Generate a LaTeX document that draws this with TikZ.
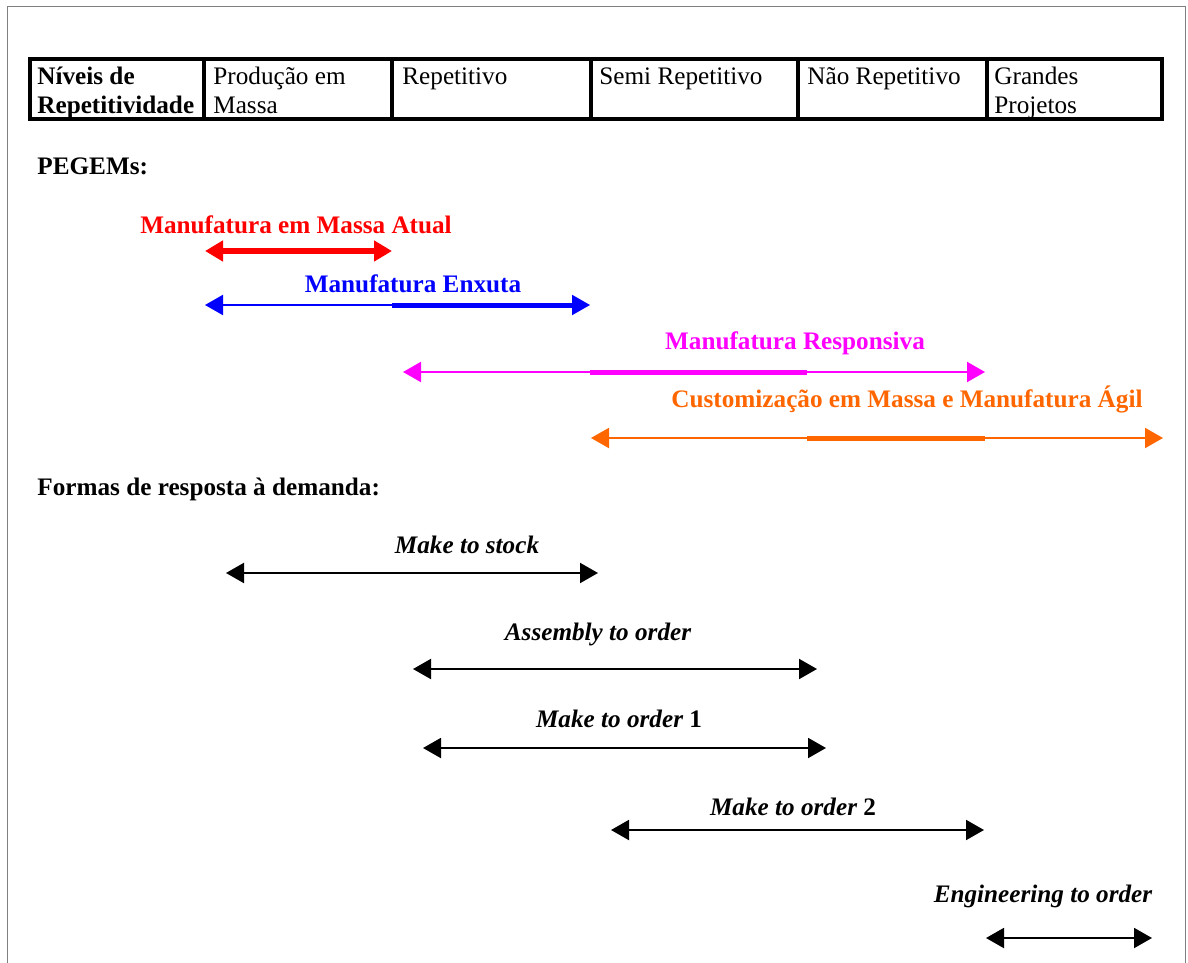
\documentclass[tikz,border=0pt]{standalone}
\usepackage{fontspec}
\setmainfont{Liberation Serif}
\usetikzlibrary{arrows.meta}
\definecolor{orng}{HTML}{FF6600}
\definecolor{mgnt}{HTML}{FF00FF}
\definecolor{rd}{HTML}{FF0000}
\definecolor{bl}{HTML}{0000FF}
\definecolor{framegray}{HTML}{808080}
\begin{document}
\begin{tikzpicture}[x=0.5pt,y=-0.5pt,
  font=\fontsize{12.6pt}{14pt}\selectfont,
  every node/.style={inner sep=0pt},
  celltext/.style={anchor=base west},
  heading/.style={anchor=base west,font=\fontsize{12.6pt}{14pt}\selectfont\bfseries},
  lbl/.style={anchor=base,font=\fontsize{12.6pt}{14pt}\selectfont\bfseries},
  mode/.style={anchor=base,font=\fontsize{12.6pt}{14pt}\selectfont\bfseries\itshape},
  >={Triangle[length=9pt,width=10pt]},
  thinline/.style={line width=1pt,<->},
  thickline/.style={line width=2.5pt},
  tablerule/.style={line width=2pt}
]
\useasboundingbox (0,0) rectangle (1188,963);

% page frame
\draw[framegray,line width=0.5pt] (7,963) -- (7,7) -- (1185,7) -- (1185,963);

% table of repetitiveness levels
\draw[tablerule] (30,59) rectangle (1162,119);
\foreach \cx in {204,392,591,798,987}
  \draw[tablerule] (\cx,59) -- (\cx,119);

\node[celltext,font=\fontsize{12.6pt}{14pt}\selectfont\bfseries] (n1a) at (37,85) {Níveis de};
\node[celltext,font=\fontsize{12.6pt}{14pt}\selectfont\bfseries] (n1b) at (37,113) {Repetitividade};
\node[celltext] (n2a) at (213,85) {Produção em};
\node[celltext] (n2b) at (213,113) {Massa};
\node[celltext] (n3a) at (402,85) {Repetitivo};
\node[celltext] (n4a) at (599,85) {Semi Repetitivo};
\node[celltext] (n5a) at (807,85) {Não Repetitivo};
\node[celltext] (n6a) at (994,85) {Grandes};
\node[celltext] (n6b) at (994,113) {Projetos};

% PEGEMs
\node[heading] (pegems) at (37,174) {PEGEMs:};

\node[lbl,rd] (lred) at (296,233) {Manufatura em Massa Atual};
\coordinate (ra) at (205,251);
\coordinate (rb) at (392,251);
\draw[rd,line width=3pt,<->] (ra) -- (rb);

\node[lbl,bl] (lblue) at (413,292) {Manufatura Enxuta};
\coordinate (ba) at (205,305);
\coordinate (bb) at (590,305);
\coordinate (bm) at (392,305);
\coordinate (bt) at (574,305);
\draw[bl,thinline] (ba) -- (bb);
\draw[bl,thickline] (bm) -- (bt);

\node[lbl,mgnt] (lmag) at (795,349) {Manufatura Responsiva};
\coordinate (ma) at (403,372);
\coordinate (mb) at (985,372);
\coordinate (mm1) at (590,372);
\coordinate (mm2) at (807,372);
\draw[mgnt,thinline] (ma) -- (mb);
\draw[mgnt,thickline] (mm1) -- (mm2);

\node[lbl,orng] (lorng) at (907,407) {Customização em Massa e Manufatura Ágil};
\coordinate (oa) at (591,438);
\coordinate (ob) at (1163,438);
\coordinate (om1) at (807,438);
\coordinate (om2) at (985,438);
\draw[orng,thinline] (oa) -- (ob);
\draw[orng,thickline] (om1) -- (om2);

% demand response forms
\node[heading] (formas) at (37,495) {Formas de resposta à demanda:};

\node[mode] (m1) at (467,553) {Make to stock};
\coordinate (s1a) at (226,573);
\coordinate (s1b) at (598,573);
\draw[thinline] (s1a) -- (s1b);

\node[mode] (m2) at (598,640) {Assembly to order};
\coordinate (s2a) at (413,669);
\coordinate (s2b) at (817,669);
\draw[thinline] (s2a) -- (s2b);

\node[mode] (m3) at (619,727) {Make to order \upshape 1};
\coordinate (s3a) at (423,748);
\coordinate (s3b) at (826,748);
\draw[thinline] (s3a) -- (s3b);

\node[mode] (m4) at (793,815) {Make to order \upshape 2};
\coordinate (s4a) at (611,830);
\coordinate (s4b) at (984,830);
\draw[thinline] (s4a) -- (s4b);

\node[mode] (m5) at (1043,902) {Engineering to order};
\coordinate (s5a) at (986,938);
\coordinate (s5b) at (1152,938);
\draw[thinline] (s5a) -- (s5b);
\end{tikzpicture}
\end{document}
